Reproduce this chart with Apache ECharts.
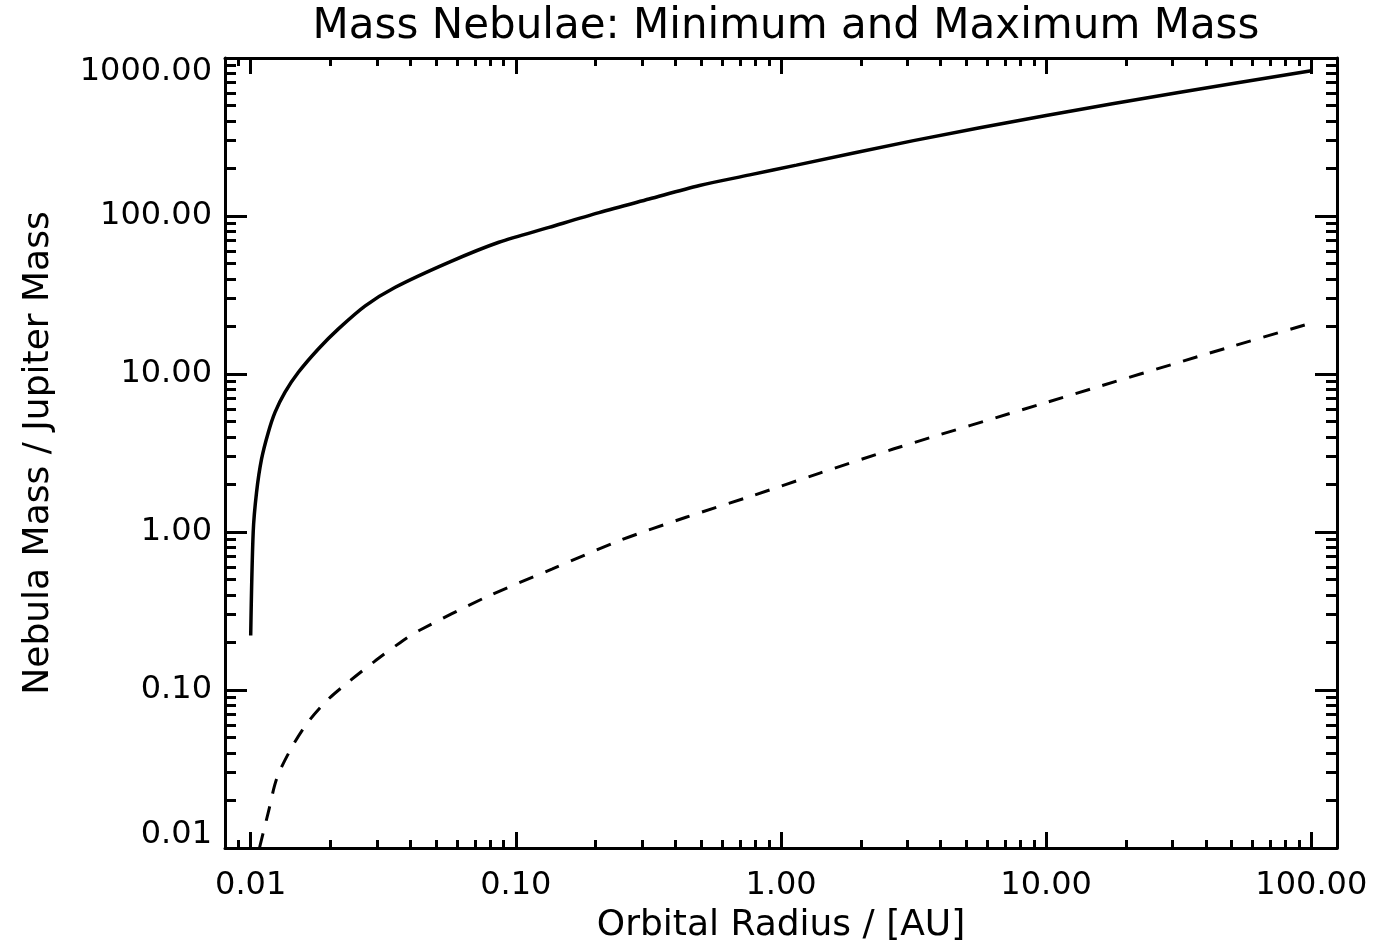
<!DOCTYPE html>
<html>
<head>
<meta charset="utf-8">
<script src="https://cdn.jsdelivr.net/npm/echarts@6/dist/echarts.min.js"></script>
<style>
  html, body { margin: 0; padding: 0; background: #ffffff; }
  #chart { width: 1374px; height: 952px; }
</style>
</head>
<body>
<div id="chart"></div>
<script>
// ---- data ----
const titleText = 'Mass Nebulae: Minimum and Maximum Mass';
const xName = 'Orbital Radius / [AU]';
const yName = 'Nebula Mass / Jupiter Mass';

const xMin = 0.008, xMax = 125;
const yMin = 0.01, yMax = 1000;

const xMajorTicks = [0.01, 0.1, 1, 10, 100];
const xTickLabels = ['0.01', '0.10', '1.00', '10.00', '100.00'];
const xMinorTicks = [0.008, 0.009,
  0.02, 0.03, 0.04, 0.05, 0.06, 0.07, 0.08, 0.09,
  0.2, 0.3, 0.4, 0.5, 0.6, 0.7, 0.8, 0.9,
  2, 3, 4, 5, 6, 7, 8, 9,
  20, 30, 40, 50, 60, 70, 80, 90];

const yMajorTicks = [0.01, 0.1, 1, 10, 100, 1000];
const yTickLabels = ['0.01', '0.10', '1.00', '10.00', '100.00', '1000.00'];
const yMinorTicks = [
  0.02, 0.03, 0.04, 0.05, 0.06, 0.07, 0.08, 0.09,
  0.2, 0.3, 0.4, 0.5, 0.6, 0.7, 0.8, 0.9,
  2, 3, 4, 5, 6, 7, 8, 9,
  20, 30, 40, 50, 60, 70, 80, 90,
  200, 300, 400, 500, 600, 700, 800, 900];

// maximum mass (solid)
const maxRadius = [0.01, 0.01022, 0.01052, 0.01099, 0.01165, 0.01235, 0.01346, 0.01513,
  0.01799, 0.02142, 0.02704, 0.0351, 0.05585, 0.0863, 0.1334, 0.206, 0.318, 0.493,
  0.762, 1.143, 3.16, 10, 31.6, 100];
const maxMass = [0.221, 1.0, 1.78, 2.90, 4.27, 5.72, 7.66, 10.25,
  14.4, 19.3, 27.0, 35.4, 50.9, 68.2, 84.7, 105, 128, 156,
  182, 210, 300, 433, 605, 830];

// minimum mass (dashed)
const minRadius = [0.01079, 0.01165, 0.01253, 0.01406, 0.01626, 0.01935, 0.0237, 0.0295,
  0.0367, 0.0430, 0.0769, 0.1374, 0.2455, 0.4385, 0.783, 1.40, 2.65, 10, 51.2, 100];
const minMass = [0.0100, 0.0168, 0.0274, 0.0413, 0.061, 0.0855, 0.1145, 0.153,
  0.200, 0.237, 0.386, 0.584, 0.881, 1.24, 1.70, 2.36, 3.35, 6.6, 15.1, 21.0];

// ---- chart ----
const FONT = 'DejaVu Sans';
const BLACK = '#000000';
const LABEL_SIZE = 32;

function labelFor(ticks, labels, v) {
  for (let i = 0; i < ticks.length; i++) {
    if (Math.abs(Math.log10(v) - Math.log10(ticks[i])) < 1e-6) return labels[i];
  }
  return '';
}

function baseAxis(min, max) {
  return { type: 'log', logBase: 10, min: min, max: max, gridIndex: 0,
    splitLine: { show: false }, minorTick: { show: false }, minorSplitLine: { show: false } };
}

function tickAxis(min, max, position, values, len, withLine) {
  return Object.assign(baseAxis(min, max), {
    position: position,
    axisLine: { show: withLine, onZero: false, lineStyle: { color: BLACK, width: 3 } },
    axisTick: { show: true, inside: true, length: len, customValues: values,
      lineStyle: { color: BLACK, width: 3 } },
    axisLabel: { show: false }
  });
}

const pairs = (xs, ys) => xs.map((x, i) => [x, ys[i]]);

const option = {
  backgroundColor: '#ffffff',
  animation: false,
  title: {
    text: titleText,
    left: 781, top: 1, textAlign: 'center',
    textStyle: { fontFamily: FONT, fontSize: 42, fontWeight: 'normal', color: BLACK }
  },
  grid: { left: 225, right: 37, top: 58, bottom: 104, containLabel: false },
  xAxis: [
    Object.assign(baseAxis(xMin, xMax), {
      position: 'bottom',
      name: xName, nameLocation: 'middle', nameGap: 60,
      nameTextStyle: { fontFamily: FONT, fontSize: 36, color: BLACK },
      axisLine: { show: true, onZero: false, lineStyle: { color: BLACK, width: 3 } },
      axisTick: { show: true, inside: true, length: 16, customValues: xMajorTicks,
        lineStyle: { color: BLACK, width: 3 } },
      axisLabel: { show: true, customValues: xMajorTicks, margin: 22,
        fontFamily: FONT, fontSize: LABEL_SIZE, color: BLACK,
        formatter: v => labelFor(xMajorTicks, xTickLabels, v) }
    }),
    tickAxis(xMin, xMax, 'bottom', xMinorTicks, 8, false),
    tickAxis(xMin, xMax, 'top', xMajorTicks, 16, true),
    tickAxis(xMin, xMax, 'top', xMinorTicks, 8, false)
  ],
  yAxis: [
    Object.assign(baseAxis(yMin, yMax), {
      position: 'left',
      name: yName, nameLocation: 'middle', nameGap: 168,
      nameTextStyle: { fontFamily: FONT, fontSize: 36, color: BLACK },
      axisLine: { show: true, onZero: false, lineStyle: { color: BLACK, width: 3 } },
      axisTick: { show: true, inside: true, length: 22, customValues: yMajorTicks,
        lineStyle: { color: BLACK, width: 3 } },
      axisLabel: { show: true, customValues: yMajorTicks, margin: 13,
        fontFamily: FONT, fontSize: LABEL_SIZE, color: BLACK,
        formatter: v => {
          const t = labelFor(yMajorTicks, yTickLabels, v);
          if (Math.abs(v - yMax) < 1e-6) return '{top|' + t + '}';
          if (Math.abs(v - yMin) < 1e-9) return '{bot|' + t + '}';
          return t;
        },
        rich: {
          top: { fontFamily: FONT, fontSize: LABEL_SIZE, color: BLACK, padding: [28, 0, 0, 0] },
          bot: { fontFamily: FONT, fontSize: LABEL_SIZE, color: BLACK, padding: [0, 0, 26, 0] }
        }
      }
    }),
    tickAxis(yMin, yMax, 'left', yMinorTicks, 11, false),
    tickAxis(yMin, yMax, 'right', yMajorTicks, 22, true),
    tickAxis(yMin, yMax, 'right', yMinorTicks, 11, false)
  ],
  series: [
    {
      name: 'Maximum Mass', type: 'line', xAxisIndex: 0, yAxisIndex: 0,
      data: pairs(maxRadius, maxMass), showSymbol: false, symbol: 'none',
      smooth: 0.3, clip: true,
      lineStyle: { color: BLACK, width: 3.5, type: 'solid' }
    },
    {
      name: 'Minimum Mass', type: 'line', xAxisIndex: 0, yAxisIndex: 0,
      data: pairs(minRadius, minMass), showSymbol: false, symbol: 'none',
      smooth: 0.3, clip: true,
      lineStyle: { color: BLACK, width: 3, type: [15, 13] }
    }
  ]
};

const chart = echarts.init(document.getElementById('chart'), null, { renderer: 'canvas' });
chart.setOption(option);
</script>
</body>
</html>
